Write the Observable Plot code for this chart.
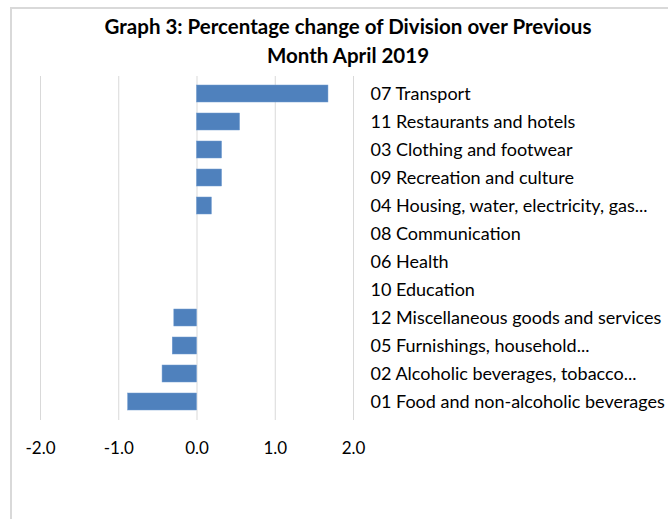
<!DOCTYPE html>
<html>
<head>
<meta charset="utf-8">
<script src="https://cdn.jsdelivr.net/npm/d3@7"></script>
<script src="https://cdn.jsdelivr.net/npm/@observablehq/plot@0.6"></script>
<style>
  html, body { margin: 0; padding: 0; background: #fff; overflow: hidden; }
  #frame { position: absolute; left: 10px; top: 7px; width: 670px; height: 530px;
           border-left: 2px solid #d9d9d9; border-top: 2px solid #d9d9d9; }
  #title { position: absolute; left: 0; top: 0; width: 696px; text-align: center;
           font-family: Lato, "Open Sans", sans-serif; font-weight: bold; font-size: 20.5px;
           line-height: 29px; padding-top: 12px; color: #000; }
  #chart { position: absolute; left: 0; top: 70px; }
</style>
</head>
<body>
<div id="frame"></div>
<div id="title">Graph 3: Percentage change of Division over Previous<br>Month April 2019</div>
<div id="chart"></div>
<script>
const categories = [
  "07 Transport",
  "11 Restaurants and hotels",
  "03 Clothing and footwear",
  "09 Recreation and culture",
  "04 Housing, water, electricity, gas...",
  "08 Communication",
  "06 Health",
  "10 Education",
  "12 Miscellaneous goods and services",
  "05 Furnishings, household...",
  "02 Alcoholic beverages, tobacco...",
  "01 Food and non-alcoholic beverages"
];
const values = [1.68, 0.55, 0.32, 0.32, 0.19, 0, 0, 0, -0.29, -0.31, -0.44, -0.88];
const xTicks = [-2, -1, 0, 1, 2];

const data = categories.map((c, i) => ({category: c, value: values[i]}));

const chart = Plot.plot({
  width: 668,
  height: 449,
  marginLeft: 40,
  marginRight: 315,
  marginTop: 6,
  marginBottom: 99,
  style: {fontFamily: "Lato, 'Open Sans', sans-serif", fontSize: "17px", color: "#000", background: "transparent", overflow: "visible"},
  x: {domain: [-2, 2], ticks: xTicks, tickFormat: d => d.toFixed(1), label: null},
  y: {domain: categories, paddingInner: 0.39, paddingOuter: 0.195, label: null},
  marks: [
    Plot.ruleX(xTicks, {stroke: "#d9d9d9", strokeWidth: 1}),
    Plot.barX(data, {x: "value", y: "category", fill: "#4f81bd", stroke: "#6f9ad0", strokeWidth: 0.5}),
    Plot.axisX({ticks: xTicks, tickSize: 0, tickPadding: 21, tickFormat: d => d.toFixed(1), label: null, fontSize: 17, fill: "#000"}),
    Plot.axisY({anchor: "right", tickSize: 0, tickPadding: 17, label: null, fontSize: 18, fill: "#000"})
  ]
});
document.getElementById("chart").appendChild(chart);
</script>
</body>
</html>
